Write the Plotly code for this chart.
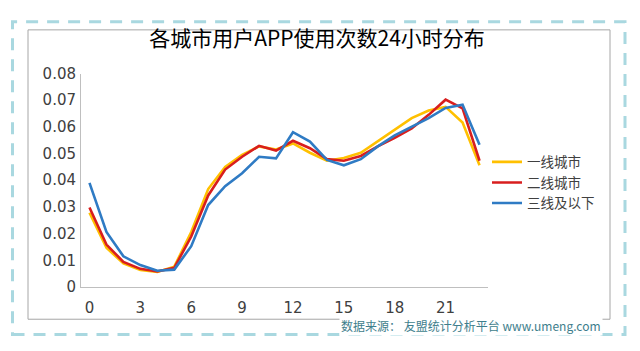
import plotly.graph_objects as go

hours = list(range(24))
tier1 = [0.0278, 0.0147, 0.0088, 0.0064, 0.0056, 0.0076, 0.0206, 0.0367, 0.0450, 0.0495,
         0.0527, 0.0515, 0.0538, 0.0503, 0.0473, 0.0483, 0.0503, 0.0547, 0.0590, 0.0633,
         0.0661, 0.0675, 0.0616, 0.0456]
tier2 = [0.0298, 0.0159, 0.0094, 0.0068, 0.0058, 0.0072, 0.0189, 0.0343, 0.0440, 0.0488,
         0.0529, 0.0511, 0.0548, 0.0520, 0.0479, 0.0473, 0.0491, 0.0527, 0.0559, 0.0594,
         0.0645, 0.0702, 0.0669, 0.0473]
tier3 = [0.0390, 0.0206, 0.0115, 0.0082, 0.0061, 0.0065, 0.0153, 0.0307, 0.0378, 0.0426,
         0.0488, 0.0482, 0.0580, 0.0545, 0.0476, 0.0456, 0.0479, 0.0527, 0.0568, 0.0601,
         0.0633, 0.0671, 0.0683, 0.0533]
series_names = ["一线城市", "二线城市", "三线及以下"]
series_colors = ["#FFC000", "#D81E1E", "#2F7BC4"]
x_ticks = [0, 3, 6, 9, 12, 15, 18, 21]
y_ticks = [0, 0.01, 0.02, 0.03, 0.04, 0.05, 0.06, 0.07, 0.08]
y_tick_text = ["0", "0.01", "0.02", "0.03", "0.04", "0.05", "0.06", "0.07", "0.08"]

W, H = 640, 351
fig = go.Figure()
for name, vals, col in zip(series_names, [tier1, tier2, tier3], series_colors):
    fig.add_trace(go.Scatter(x=hours, y=vals, mode="lines", name=name,
                             line=dict(color=col, width=2.6)))

def px(x):
    return x / W

def py(y):
    return 1 - y / H

fig.update_layout(
    width=W, height=H,
    margin=dict(l=0, r=0, t=0, b=0),
    paper_bgcolor="white", plot_bgcolor="white",
    font=dict(family="Noto Sans CJK SC, DejaVu Sans", color="#404040", size=14),
    title=dict(text="各城市用户APP使用次数24小时分布", x=px(317), y=py(39),
               xanchor="center", yanchor="middle",
               font=dict(size=21, color="#000000", family="Noto Sans CJK SC")),
    xaxis=dict(domain=[px(81), px(488)], range=[-0.5, 23.5], tickmode="array",
               tickvals=x_ticks, showgrid=False, zeroline=False, showline=True,
               linecolor="#BFBFBF", linewidth=1, ticks="", ticklabelstandoff=7,
               tickfont=dict(family="DejaVu Sans", size=15, color="#404040")),
    yaxis=dict(domain=[py(293), py(68)], range=[0, 0.08], tickmode="array",
               tickvals=y_ticks, ticktext=y_tick_text, showgrid=False, zeroline=False,
               showline=True, linecolor="#BFBFBF", linewidth=1, ticks="",
               ticklabelstandoff=1,
               tickfont=dict(family="DejaVu Sans", size=15, color="#404040")),
    legend=dict(x=px(487), y=py(183), xanchor="left", yanchor="middle",
                bgcolor="rgba(0,0,0,0)", tracegroupgap=0,
                font=dict(size=13.5, color="#404040", family="Noto Sans CJK SC")),
    shapes=[
        dict(type="rect", xref="paper", yref="paper", x0=px(28), x1=px(610),
             y0=py(327), y1=py(22), line=dict(color="#A6A6A6", width=1), layer="below"),
        dict(type="rect", xref="paper", yref="paper", x0=px(12.5), x1=px(625),
             y0=py(343), y1=py(13.5), line=dict(color="#A9D8E0", width=3, dash="12px,9px"),
             layer="below"),
    ],
    annotations=[
        dict(text="数据来源： 友盟统计分析平台 www.umeng.com", xref="paper", yref="paper",
             x=px(471), y=py(334), xanchor="center", yanchor="middle", showarrow=False,
             font=dict(size=12, color="#3E7E8C", family="Noto Sans CJK SC"),
             bgcolor="white"),
    ],
)

fig.write_html("out.html")
